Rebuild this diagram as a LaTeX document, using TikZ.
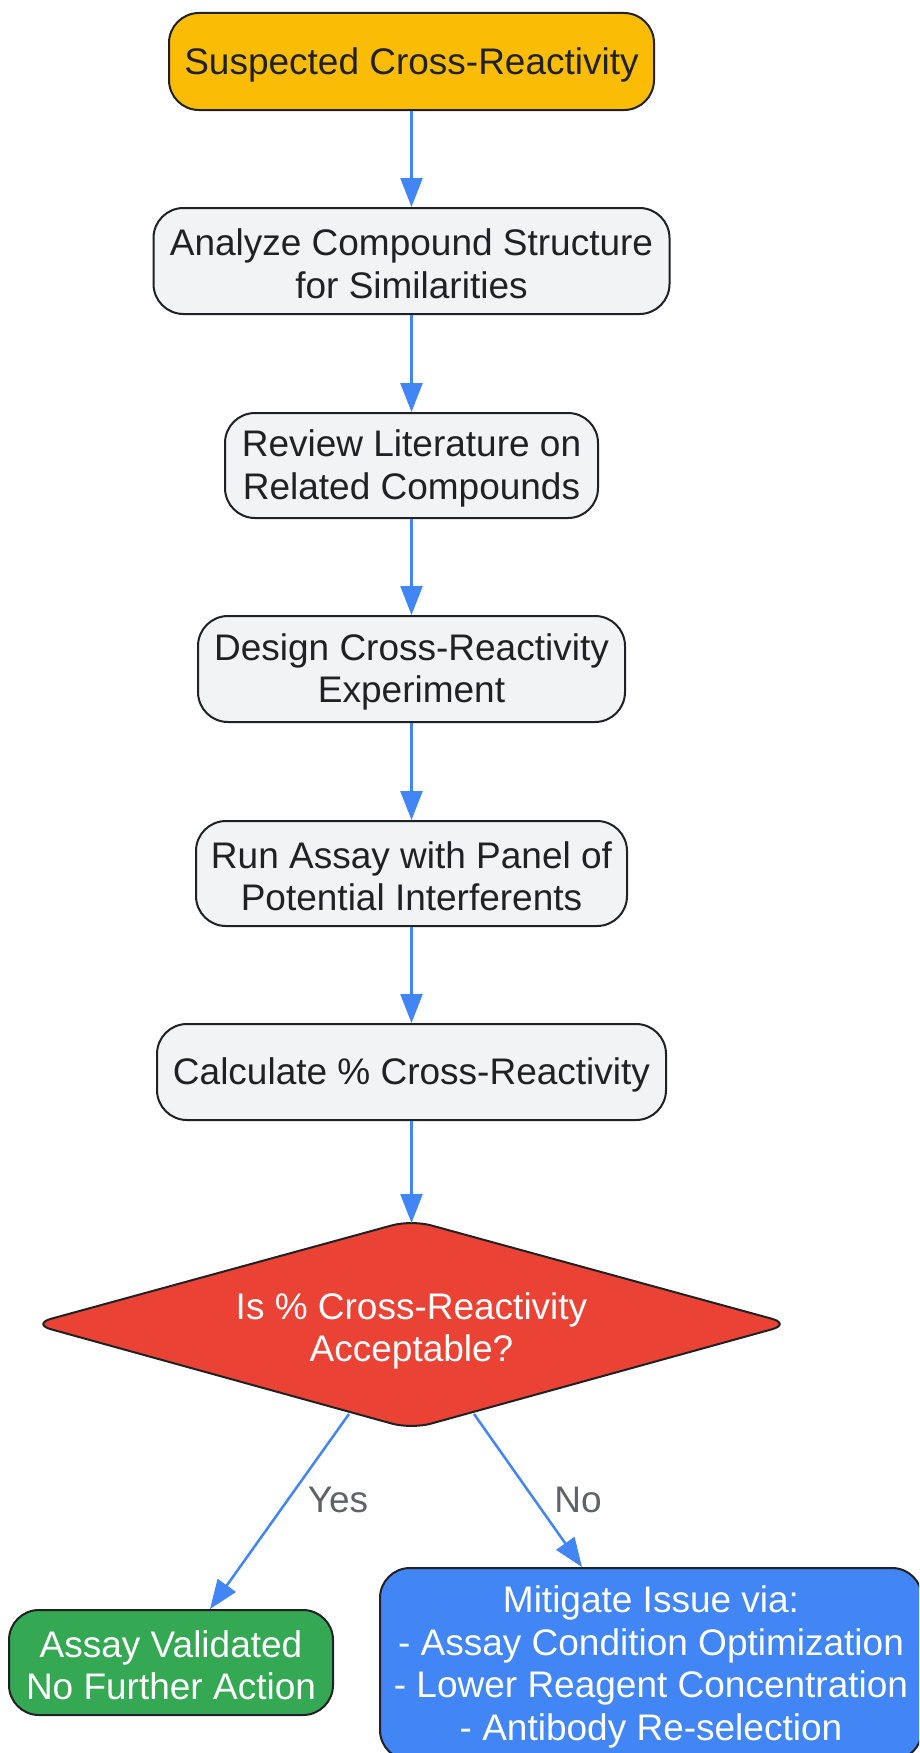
\documentclass[tikz,border=0pt]{standalone}
\usepackage{fontspec}
\setmainfont{Liberation Sans}
\usetikzlibrary{arrows.meta}
\definecolor{gfill}{HTML}{F1F3F4}
\definecolor{ink}{HTML}{202124}
\definecolor{cyel}{HTML}{FBBC05}
\definecolor{cred}{HTML}{EA4335}
\definecolor{cgrn}{HTML}{34A853}
\definecolor{cblu}{HTML}{4285F4}
\definecolor{lbl}{HTML}{5F6368}
\tikzset{
  box/.style={draw=ink, line width=2pt, rounded corners=30pt, fill=gfill, inner sep=0pt},
  txt/.style={align=center, inner sep=0pt, text=ink, yshift=-3pt, font=\fontsize{37}{42.5}\selectfont},
  wtxt/.style={txt, text=white},
  arr/.style={draw=cblu, line width=2.5pt, -{Triangle[length=29pt,width=22pt]}},
  elabel/.style={text=lbl, font=\fontsize{37}{42}\selectfont},
}
\begin{document}
\begin{tikzpicture}[x=1pt,y=-1pt]
\useasboundingbox (0,0) rectangle (919,1753);
\clip (0,0) rectangle (919,1753);
\fill[white] (0,0) rectangle (919,1753);
\node[box, fill=cyel, minimum width=485pt, minimum height=97pt,
  label={[txt]center:Suspected Cross-Reactivity}] (n1) at (411.5,61.5) {};
\node[box, minimum width=516pt, minimum height=106pt,
  label={[txt]center:{Analyze Compound Structure\\for Similarities}}] (n2) at (411.5,261) {};
\node[box, minimum width=373pt, minimum height=105pt,
  label={[txt]center:{Review Literature on\\Related Compounds}}] (n3) at (411.5,465.5) {};
\node[box, minimum width=427pt, minimum height=106pt,
  label={[txt]center:{Design Cross-Reactivity\\Experiment}}] (n4) at (411.5,669) {};
\node[box, minimum width=431pt, minimum height=105pt,
  label={[txt]center:{Run Assay with Panel of\\Potential Interferents}}] (n5) at (411.5,873.5) {};
\node[box, minimum width=509pt, minimum height=96pt,
  label={[txt]center:{Calculate \% Cross-Reactivity}}] (n6) at (411.5,1072) {};
% diamond
\draw[draw=ink, line width=2pt, fill=cred, rounded corners=20pt]
  (411.5,1220) -- (791,1324) -- (411.5,1429) -- (32,1324) -- cycle;
\node[wtxt, yshift=-1pt] (d) at (411.5,1327) {Is \% Cross-Reactivity\\Acceptable?};
\coordinate (dtop) at (411.5,1223);
\coordinate (dyes) at (349,1414);
\coordinate (dno) at (474,1414);
\node[box, fill=cgrn, minimum width=324pt, minimum height=105pt,
  label={[wtxt]center:{Assay Validated\\No Further Action}}] (g) at (171,1662.5) {};
\node[box, fill=cblu, minimum width=542pt, minimum height=192pt,
  label={[wtxt]center:{Mitigate Issue via:\\- Assay Condition Optimization\\- Lower Reagent Concentration\\- Antibody Re-selection}}] (b) at (651,1664) {};
\coordinate (gtip) at ([xshift=39pt]g.north);
\coordinate (btip) at ([xshift=-69pt]b.north);
\draw[arr] (n1) -- (n2);
\draw[arr] (n2) -- (n3);
\draw[arr] (n3) -- (n4);
\draw[arr] (n4) -- (n5);
\draw[arr] (n5) -- (n6);
\draw[arr] (n6) -- (dtop);
\draw[arr] (dyes) -- (gtip);
\draw[arr] (dno) -- (btip);
\node[elabel] (ly) at (338,1500) {Yes};
\node[elabel] (ln) at (578,1500) {No};
\end{tikzpicture}
\end{document}
